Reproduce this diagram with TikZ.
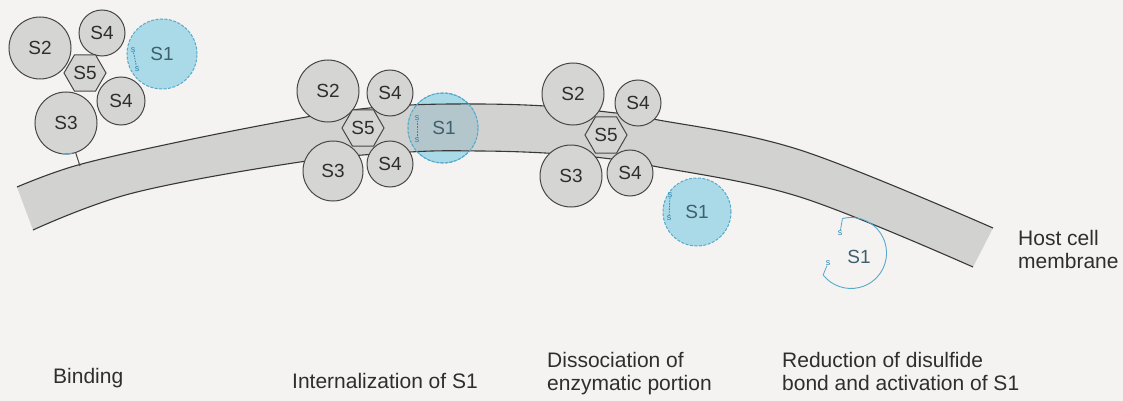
\documentclass[tikz,border=0pt]{standalone}
\usepackage{fontspec}
\setmainfont{Liberation Sans}
\usetikzlibrary{shapes.geometric,calc}

\definecolor{paper}{HTML}{F4F3F1}
\definecolor{protein}{HTML}{D5D6D4}
\definecolor{outline}{HTML}{474747}
\definecolor{lipid}{HTML}{D2D3D1}
\definecolor{sone}{HTML}{AADAE7}
\definecolor{soneline}{HTML}{56AACD}
\definecolor{sonemix}{HTML}{B2C6CB}
\definecolor{sonetext}{HTML}{3E5F6D}
\definecolor{bondblue}{HTML}{2F86B2}
\definecolor{ink}{HTML}{2E2E2E}

\begin{document}
\begin{tikzpicture}[x=1pt,y=-1pt,
  % protein subunits
  sub/.style={circle,draw=outline,line width=1pt,fill=protein,inner sep=0pt,
    text=ink,font=\fontsize{19}{19}\selectfont},
  bigsub/.style={sub,minimum size=62pt},
  smallsub/.style={sub,minimum size=46pt},
  hexsub/.style={sub,regular polygon,regular polygon sides=6,minimum size=42pt},
  sonebody/.style={circle,draw=soneline,line width=1pt,dash pattern=on 3pt off 1.5pt,
    fill=sone,inner sep=0pt,minimum size=70pt,text=sonetext,font=\fontsize{19}{19}\selectfont},
  sonering/.style={draw=soneline,line width=1pt,dash pattern=on 3pt off 1.5pt},
  sonearc/.style={draw=soneline,line width=0.9pt},
  sonelabel/.style={inner sep=0pt,text=sonetext,font=\fontsize{19}{19}\selectfont},
  % disulfide bond marks
  smark/.style={inner sep=0pt,text=bondblue,font=\fontsize{9}{9}\selectfont},
  sbond/.style={draw=bondblue,line width=0.8pt,dash pattern=on 1.5pt off 1.2pt},
  % membrane
  membedge/.style={draw=black!78,line width=1.1pt},
  bandtop/.style={insert path={plot[smooth,tension=0.6] coordinates {(17,187) (78,165) (183,141) (290,120) (352,110) (410,105) (480,104) (545,106) (607,112) (653,119) (800,150) (993,228)}}},
  bandbot/.style={insert path={plot[smooth,tension=0.6] coordinates {(33,230) (133,193) (300,162) (410,152) (480,151) (545,153) (603,158) (653,166) (800,197) (973,267)}}},
  bandshape/.style={insert path={plot[smooth,tension=0.6] coordinates {(17,187) (78,165) (183,141) (290,120) (352,110) (410,105) (480,104) (545,106) (607,112) (653,119) (800,150) (993,228)} -- plot[smooth,tension=0.6] coordinates {(973,267) (800,197) (653,166) (603,158) (545,153) (480,151) (410,152) (300,162) (133,193) (33,230)} -- cycle}},
  caption/.style={inner sep=0pt,text=ink,align=left,font=\fontsize{21}{23}\selectfont}
]
\useasboundingbox (0,0) rectangle (1123,401);
\fill[paper] (0,0) rectangle (1123,401);

% host cell membrane
\fill[lipid] [bandshape];
\draw[membedge] [bandtop];
\draw[membedge] [bandbot];

% ---- binding
\node[sonebody] (c1s1) at (162,54) {S1};
\node[smark] (c1sa) at (133,50) {s};
\node[smark] (c1sb) at (137,69) {s};
\draw[sbond] (c1sa) -- (c1sb);
\node[bigsub] (c1s2) at (40,48) {S2};
\node[smallsub] (c1s4a) at (102,33) {S4};
\node[smallsub,minimum size=48pt] (c1s4b) at (121,101) {S4};
\node[bigsub] (c1s3) at (66,123) {S3};
\node[hexsub] (c1s5) at (85,73) {S5};
\coordinate (c1foot) at (80,166);
\draw[outline,line width=1pt] (c1s3) -- (c1foot);
\draw[soneline,line width=1.3pt] ($(c1s3.center)+(78:31)$) arc[start angle=78,end angle=98,radius=31];

% ---- internalization of S1
\node[sonebody] (c2s1) at (443,128) {};
\begin{scope}
  \clip (c2s1.center) circle[radius=35];
  \fill[sonemix] [bandshape];
  \draw[membedge] [bandtop];
  \draw[membedge] [bandbot];
\end{scope}
\draw[sonering] (c2s1.center) circle[radius=35];
\node[sonelabel] (c2s1lab) at (444,128) {S1};
\node[smark] (c2sa) at (417,118) {s};
\node[smark] (c2sb) at (417,140) {s};
\draw[sbond] (c2sa) -- (c2sb);
\node[bigsub] (c2s2) at (328,91) {S2};
\node[smallsub] (c2s4a) at (390,93) {S4};
\node[smallsub] (c2s4b) at (390,164) {S4};
\node[bigsub,minimum size=60pt] (c2s3) at (333,171) {S3};
\node[hexsub] (c2s5) at (363,128) {S5};

% ---- dissociation of enzymatic portion
\node[sonebody,minimum size=68pt] (c3s1) at (697,212) {S1};
\node[smark] (c3sa) at (670,195) {s};
\node[smark] (c3sb) at (669,218) {s};
\draw[sbond] (c3sa) -- (c3sb);
\node[bigsub] (c3s2) at (573,94) {S2};
\node[smallsub] (c3s4a) at (638,103) {S4};
\node[smallsub] (c3s4b) at (630,173) {S4};
\node[bigsub] (c3s3) at (571,176) {S3};
\node[hexsub] (c3s5) at (606,135) {S5};

% ---- reduction of disulfide bond: opened S1
\coordinate (c4ctr) at (851,253);
\coordinate (c4open) at ($(c4ctr)+(-104:35.5)$);
\coordinate (c4close) at ($(c4ctr)+(141.7:35.5)$);
\draw[sonearc] (c4open) arc[start angle=-104,end angle=141.7,radius=35.5];
\node[sonelabel] (c4s1) at (859,257) {S1};
\node[smark] (c4sa) at (840,233) {s};
\node[smark] (c4sb) at (828,263) {s};
\draw[sonearc,line width=0.8pt] (c4open) -- (c4sa);
\draw[sonearc,line width=0.8pt] (c4sb) -- (c4close);

% ---- captions
\node[caption,anchor=base west] (capbind) at (53,383) {Binding};
\node[caption,anchor=base west] (capint) at (292,388) {Internalization of S1};
\node[caption,anchor=north west] (capdis) at (547,352) {Dissociation of\\enzymatic portion};
\node[caption,anchor=north west] (capred) at (782,352) {Reduction of disulfide\\bond and activation of S1};
\node[caption,anchor=north west] (caphost) at (1018,230) {Host cell\\membrane};
\end{tikzpicture}
\end{document}
